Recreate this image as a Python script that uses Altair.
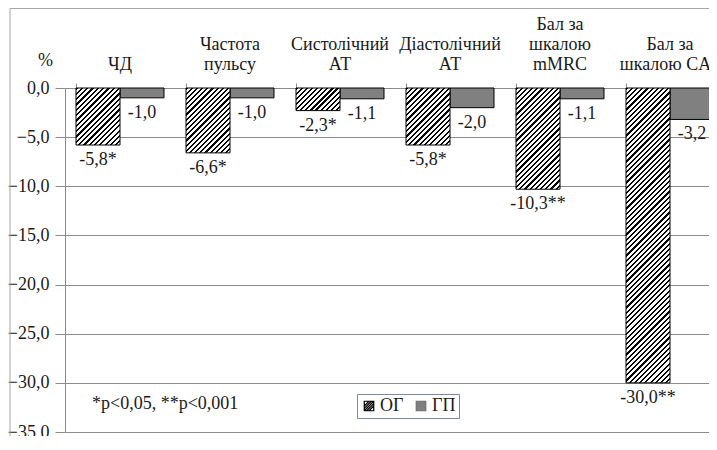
import altair as alt
import pandas as pd

# ---- data ----
categories = ["ЧД", "Частота|пульсу", "Систолічний|АТ", "Діастолічний|АТ",
              "Бал за|шкалою|mMRC", "Бал за|шкалою CAT"]
groups = ["ОГ", "ГП"]
og_values = [-5.8, -6.6, -2.3, -5.8, -10.3, -30.0]
gp_values = [-1.0, -1.0, -1.1, -2.0, -1.1, -3.2]
og_marks = ["*", "*", "*", "*", "**", "**"]
gp_marks = ["", "", "", "", "", ""]
y_ticks = [-35, -30, -25, -20, -15, -10, -5, 0]
note_text = "*p<0,05, **p<0,001"

# ---- layout / style ----
W, H = 644, 344          # visible plot area
X_RANGE = 660            # category scale continues past the right edge (clipped, as in the source)
Y_MIN, Y_MAX = -35, 0
FONT = "Liberation Serif"
FS = 18
TXT = "#1a1a1a"
GRID = "#8c8c8c"
BAR_W = X_RANGE / len(categories) * 0.8 / 2
HATCH_P = 5.2   # stripe period (px, measured horizontally)
HATCH_F = 0.42  # black fraction
LINE_H = 20


def fmt(v, m):
    return f"{v:.1f}".replace(".", ",") + m


def hatch(v):
    w = BAR_W
    h = abs(v) * H / (Y_MAX - Y_MIN)
    c = (w + h) / (w * w + h * h)
    n = max(1, round((w + h) / HATCH_P))
    stops = []
    for i in range(n):
        a = round(i / n, 5)
        b = round((i + HATCH_F) / n, 5)
        e = round((i + 1) / n, 5)
        stops += [
            alt.GradientStop(offset=a, color="black"),
            alt.GradientStop(offset=b, color="black"),
            alt.GradientStop(offset=b, color="white"),
            alt.GradientStop(offset=e, color="white"),
        ]
    return alt.LinearGradient(gradient="linear", stops=stops,
                              x1=0, y1=0, x2=round(w * c, 5), y2=round(h * c, 5))


df_og = pd.DataFrame({"cat": categories, "group": "ОГ", "value": og_values,
                      "label": [fmt(v, m) for v, m in zip(og_values, og_marks)]})
df_gp = pd.DataFrame({"cat": categories, "group": "ГП", "value": gp_values,
                      "label": [fmt(v, m) for v, m in zip(gp_values, gp_marks)]})
df_all = pd.concat([df_og, df_gp], ignore_index=True)

x_enc = alt.X(
    "cat:N", sort=categories, title=None,
    scale=alt.Scale(domain=categories, range=[0, X_RANGE], paddingInner=0.2, paddingOuter=0.1),
    axis=alt.Axis(orient="top", labels=False, bandPosition=0, tickSize=5,
                  tickColor=GRID, domainColor=GRID),
)
xo_enc = alt.XOffset("group:N", sort=groups,
                     scale=alt.Scale(domain=groups, paddingInner=0, paddingOuter=0))
y_enc = alt.Y(
    "value:Q",
    scale=alt.Scale(domain=[Y_MIN, Y_MAX], nice=False, zero=True),
    axis=alt.Axis(values=y_ticks,
                  labelExpr="replace(format(datum.value, '.1f'), '.', ',')",
                  labelFont=FONT, labelFontSize=FS, labelColor=TXT, labelPadding=6,
                  tickSize=10, tickColor=GRID, domainColor=GRID, gridColor=GRID,
                  title="%", titleAngle=0, titleX=-20, titleY=-28, titleAlign="center",
                  titleBaseline="middle", titleFont=FONT, titleFontSize=FS,
                  titleFontWeight="normal", titleColor=TXT),
)

layers = []

frame = alt.Chart(pd.DataFrame({"a": [0]})).mark_rect(
    filled=False, stroke="#a6a6a6", strokeWidth=1
).encode(x=alt.value(-55), y=alt.value(-79.5), x2=alt.value(900), y2=alt.value(700))
layers.append(frame)

gp_bars = alt.Chart(df_gp).mark_bar(color="#808080", stroke="black", strokeWidth=1).encode(
    x=x_enc, xOffset=xo_enc, y=y_enc)
layers.append(gp_bars)

for i, v in enumerate(og_values):
    layers.append(
        alt.Chart(df_og.iloc[[i]]).mark_bar(color=hatch(v), stroke="black", strokeWidth=1)
        .encode(x=x_enc, xOffset=xo_enc, y=y_enc)
    )

labels = alt.Chart(df_all).mark_text(
    baseline="middle", dy=15, font=FONT, fontSize=FS, color=TXT
).encode(x=x_enc, xOffset=xo_enc, y=y_enc, text="label:N")
layers.append(labels)

# category names above the plot, last line of each sitting just above the axis
n_lines = [c.count("|") + 1 for c in categories]
for n in sorted(set(n_lines)):
    sub = [c for c, k in zip(categories, n_lines) if k == n]
    layers.append(
        alt.Chart(pd.DataFrame({"cat": sub, "txt": sub})).mark_text(
            lineBreak="|", lineHeight=LINE_H, baseline="alphabetic", align="center",
            font=FONT, fontSize=FS, color=TXT
        ).encode(x=x_enc, y=alt.value(-18 - LINE_H * (n - 1)), text="txt:N")
    )

og_shape = "M-1,-1H1V1H-1Z M-1,1L1,-1 M-1,0L0,-1 M0,1L1,0 M-1,0.5L0.5,-1 M-0.5,1L1,-0.5"
leg = alt.Legend(orient="none", legendX=292, legendY=306, direction="horizontal",
                 title=None, padding=3, strokeColor="#7a8aa0", fillColor="white",
                 labelFont=FONT, labelFontSize=FS, labelColor=TXT, symbolSize=90,
                 symbolStrokeWidth=1.2, symbolOpacity=1, columnPadding=8, labelOffset=2)
legend_layer = alt.Chart(df_all).mark_point(opacity=0, filled=True).encode(
    x=x_enc, y=y_enc,
    fill=alt.Fill("group:N", sort=groups,
                  scale=alt.Scale(domain=groups, range=["white", "#808080"]), legend=leg),
    stroke=alt.Stroke("group:N", sort=groups,
                      scale=alt.Scale(domain=groups, range=["black", "#6e6e6e"]), legend=leg),
    shape=alt.Shape("group:N", sort=groups,
                    scale=alt.Scale(domain=groups, range=[og_shape, "square"]), legend=leg),
)
layers.append(legend_layer)

note = alt.Chart(pd.DataFrame({"t": [note_text]})).mark_text(
    align="left", baseline="middle", font=FONT, fontSize=FS, color=TXT
).encode(x=alt.value(27), y=alt.value(316), text="t:N")
layers.append(note)

chart = alt.layer(*layers).properties(
    width=W, height=H,
    autosize=alt.AutoSizeParams(type="none"),
    padding={"left": 57, "top": 80, "right": 0, "bottom": 4},
    background="white",
).configure(font=FONT).configure_view(stroke=None).configure_axis(grid=True)
chart = chart.configure_axisX(grid=False)

chart.save("out.html", embed_options={"renderer": "svg", "actions": False})
